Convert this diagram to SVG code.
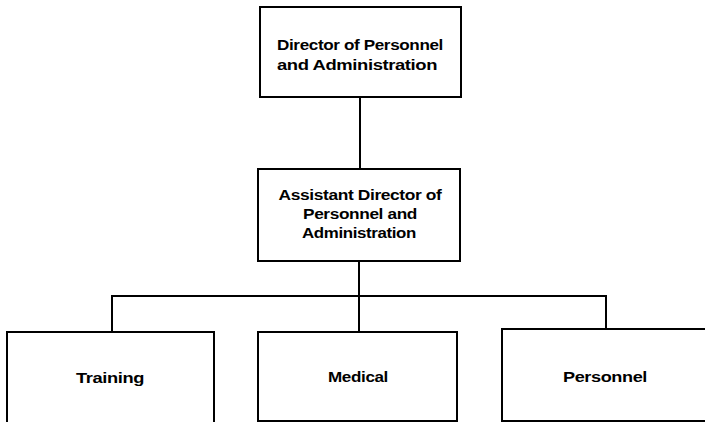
<svg xmlns="http://www.w3.org/2000/svg" width="705" height="422" viewBox="0 0 705 422">
  <style>
    .box { fill: #ffffff; stroke: #000000; stroke-width: 2; }
    .line { fill: none; stroke: #000000; stroke-width: 2; }
    .label { font-family: "Liberation Sans", Arial, sans-serif; font-weight: bold; font-size: 14px; fill: #000000; text-anchor: middle; letter-spacing: -0.3px; }
  </style>
  <rect width="705" height="422" fill="#ffffff"/>

  <!-- connectors -->
  <g id="connectors">
    <line class="line" x1="360" y1="97" x2="360" y2="169"/>
    <line class="line" x1="359" y1="261" x2="359" y2="332"/>
    <polyline class="line" points="112,332 112,296 606,296 606,329"/>
  </g>

  <!-- top level -->
  <g id="director">
    <rect class="box" x="260" y="7" width="201" height="90"/>
    <text class="label" x="360" y="50" textLength="166" lengthAdjust="spacingAndGlyphs">Director of Personnel</text>
    <text class="label" x="357" y="70" textLength="160" lengthAdjust="spacingAndGlyphs">and Administration</text>
  </g>

  <!-- second level -->
  <g id="assistant-director">
    <rect class="box" x="258" y="169" width="202" height="92"/>
    <text class="label" x="360" y="200" textLength="163" lengthAdjust="spacingAndGlyphs">Assistant Director of</text>
    <text class="label" x="360" y="219" textLength="114" lengthAdjust="spacingAndGlyphs">Personnel and</text>
    <text class="label" x="359" y="238" textLength="114" lengthAdjust="spacingAndGlyphs">Administration</text>
  </g>

  <!-- third level -->
  <g id="training">
    <rect class="box" x="7" y="332" width="207" height="100"/>
    <text class="label" x="110" y="383" textLength="68" lengthAdjust="spacingAndGlyphs">Training</text>
  </g>
  <g id="medical">
    <rect class="box" x="258" y="332" width="199" height="89"/>
    <text class="label" x="358" y="382" textLength="60" lengthAdjust="spacingAndGlyphs">Medical</text>
  </g>
  <g id="personnel">
    <rect class="box" x="502" y="329" width="210" height="92"/>
    <text class="label" x="605" y="382" textLength="84" lengthAdjust="spacingAndGlyphs">Personnel</text>
  </g>
</svg>
